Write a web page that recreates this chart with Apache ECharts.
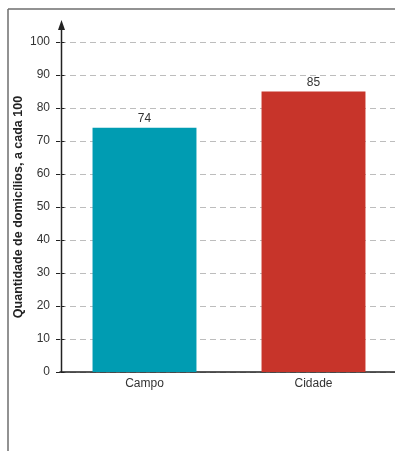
<!DOCTYPE html>
<html>
<head>
<meta charset="utf-8">
<script src="https://cdn.jsdelivr.net/npm/echarts@6/dist/echarts.min.js"></script>
<style>
  html, body { margin: 0; padding: 0; background: #fff; }
  #chart { width: 395px; height: 451px; }
</style>
</head>
<body>
<div id="chart"></div>
<script>
  // dados
  const categories = ['Campo', 'Cidade']
  const values = [74, 85]
  const barColors = ['#009cb2', '#c7342a']
  const yTicks = [0, 10, 20, 30, 40, 50, 60, 70, 80, 90, 100]

  const fontFamily = 'Liberation Sans, Arial, sans-serif'
  const chart = echarts.init(document.getElementById('chart'))

  chart.setOption({
    backgroundColor: '#fff',
    animation: false,
    grid: {
      left: 60,
      right: -3,
      top: 42,
      bottom: 79,
      containLabel: false,
      outerBoundsMode: 'none'
    },
    xAxis: {
      type: 'category',
      data: categories,
      axisLine: { show: true, lineStyle: { color: '#222', width: 1.5 } },
      axisTick: { show: false },
      axisLabel: { color: '#333', fontSize: 12, fontFamily: fontFamily, margin: 6 },
      splitLine: { show: false }
    },
    yAxis: {
      type: 'value',
      min: yTicks[0],
      max: yTicks[yTicks.length - 1],
      interval: 10,
      name: 'Quantidade de domicílios, a cada 100',
      nameLocation: 'middle',
      nameGap: 35,
      nameMoveOverlap: false,
      nameTextStyle: { color: '#222', fontSize: 12.5, fontWeight: 'bold', fontFamily: fontFamily },
      axisLine: { show: false },
      axisTick: { show: true, length: 4, lineStyle: { color: '#222', width: 1 } },
      axisLabel: { color: '#333', fontSize: 12, fontFamily: fontFamily, margin: 10 },
      splitLine: {
        show: true,
        lineStyle: { color: '#bdbdbd', width: 1, type: [6, 4] }
      }
    },
    series: [{
      type: 'bar',
      barWidth: '61.5%',
      data: values.map((v, i) => ({ value: v, itemStyle: { color: barColors[i] } })),
      label: {
        show: true,
        position: 'top',
        distance: 3,
        color: '#333',
        fontSize: 12,
        fontFamily: fontFamily
      }
    }]
  })

  // eixo vertical com seta, e moldura
  const origin = chart.convertToPixel({ gridIndex: 0 }, [0, 0])
  const ax = Math.round(chart.convertToPixel({ xAxisIndex: 0 }, 0) - 84) + 0.5
  const yTop = chart.convertToPixel({ yAxisIndex: 0 }, yTicks[yTicks.length - 1])
  const arrowTip = yTop - 22

  // pequenos traços à direita do eixo (as marcas cruzam o eixo)
  const tickRight = yTicks.map(v => {
    const y = Math.round(chart.convertToPixel({ yAxisIndex: 0 }, v)) + 0.5
    return {
      type: 'line',
      z: 10,
      shape: { x1: ax, y1: y, x2: ax + 3, y2: y },
      style: { stroke: '#222', lineWidth: 1 }
    }
  })

  chart.setOption({
    graphic: [
      {
        type: 'line',
        shape: { x1: 8, y1: 9, x2: 8, y2: 451 },
        style: { stroke: '#6e6e6e', lineWidth: 1.5 }
      },
      {
        type: 'line',
        shape: { x1: 8, y1: 9, x2: 395, y2: 9 },
        style: { stroke: '#6e6e6e', lineWidth: 1.5 }
      },
      {
        type: 'line',
        z: 10,
        shape: { x1: ax, y1: origin[1] + 1, x2: ax, y2: arrowTip + 8 },
        style: { stroke: '#222', lineWidth: 1.5 }
      },
      {
        type: 'polygon',
        z: 10,
        shape: { points: [[ax, arrowTip], [ax - 3.5, arrowTip + 10], [ax + 3.5, arrowTip + 10]] },
        style: { fill: '#222' }
      }
    ].concat(tickRight)
  })
</script>
</body>
</html>
